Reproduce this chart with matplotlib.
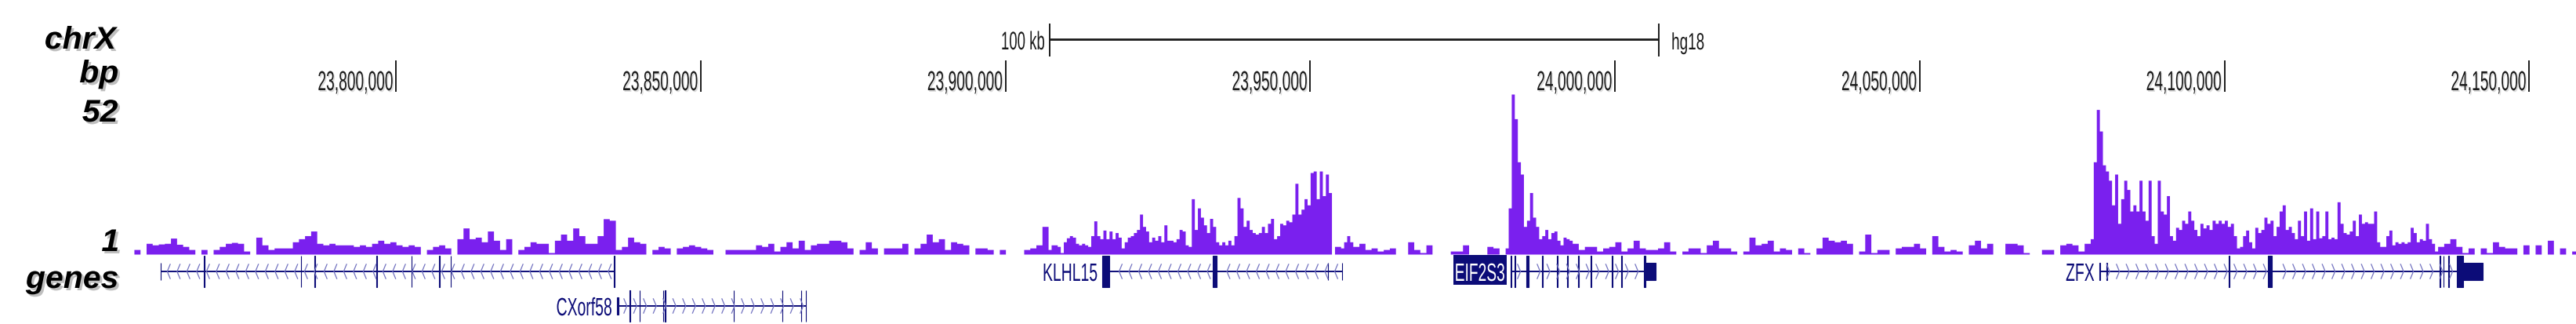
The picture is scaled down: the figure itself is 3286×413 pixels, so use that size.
import numpy as np
import matplotlib
matplotlib.use("Agg")
import matplotlib.pyplot as plt
from matplotlib.textpath import TextPath
from matplotlib.patches import PathPatch, Rectangle
from matplotlib.font_manager import FontProperties
from matplotlib.transforms import Affine2D
from matplotlib.collections import LineCollection

# ---------------- data ----------------
chrom = "chrX"
assembly = "hg18"
view_start = 23756750
view_end = 24157819
y_max = 52
y_low_label = 1

# signal: background stretches in 1 kb bins, peak stretches in 0.5 kb bins
bg1_start, bg1_bin = 23757000, 1000
bg1_values = [1.5, 0, 3.5, 3.0, 3.3, 3.5, 5.2, 3.2, 2.5, 1.5,
              0, 1.5, 0, 1.5, 2.5, 3.5, 3.8, 3.5, 1.0, 0,
              5.5, 3.0, 1.5, 2.0, 2.0, 2.0, 4.0, 5.0, 6.0, 7.5,
              3.5, 3.0, 3.5, 3.0, 3.0, 3.0, 2.5, 3.0, 2.5, 3.5,
              4.5, 3.5, 4.0, 3.0, 2.5, 3.0, 2.5, 0, 1.5, 2.5,
              3.0, 2.0, 0, 5.0, 8.5, 5.0, 5.5, 4.0, 7.5, 4.5,
              1.5, 5.0, 0, 1.5, 2.5, 4.0, 3.5, 3.5, 0.5, 4.5,
              6.5, 4.5, 8.5, 6.0, 3.5, 3.5, 6.0, 11.5, 11.0, 1.5,
              2.5, 5.5, 4.0, 3.5, 0, 1.5, 2.5, 2.0, 0, 2.0,
              2.5, 3.0, 2.5, 2.0, 1.5, 0, 0, 1.5, 1.5, 1.5,
              1.5, 1.5, 3.0, 2.5, 3.5, 1.0, 2.5, 4.0, 2.0, 4.5,
              1.5, 3.0, 3.5, 3.5, 4.5, 4.5, 4.0, 2.0, 0, 1.5,
              4.0, 2.0, 0, 2.0, 2.0, 2.0, 3.5, 0, 2.0, 3.5,
              6.5, 4.0, 5.0, 1.5, 4.0, 3.5, 3.0, 0, 2.0, 2.0,
              1.5, 0, 1.5, 0, 0, 0, 1.5, 2.0, 3.0, 9.0]
klhl15_start, klhl15_bin = 23907000, 500
klhl15_values = [1.5, 3, 3, 2.5, 0.5, 4, 5.3, 6, 5.5, 3.5,
                 3.0, 3.5, 3.0, 2.5, 6, 10.8, 6, 5, 7.8, 5,
                 7.5, 5, 7, 5.5, 2, 4, 5.5, 6, 7, 8,
                 13, 9, 7.5, 4, 5.5, 4.5, 6, 4, 9.5, 4.5,
                 4.5, 4, 5, 8, 7.5, 3, 2.5, 18, 8, 15,
                 12, 9.5, 7, 11.6, 9, 4, 3, 4, 3, 4.5,
                 3, 6, 18.4, 15, 9, 11, 8, 7, 6.5, 7,
                 9, 7, 10, 11.6, 5, 6, 10, 9.5, 11, 10.5,
                 13, 23, 13, 14.6, 18, 16, 26.5, 27, 18, 27,
                 19, 26, 20, 0, 2.5, 2.5, 2, 4, 6, 4]
bg2_start, bg2_bin = 23957000, 1000
bg2_values = [2.5, 3.5, 1.5, 2.0, 1.0, 1.5, 2.0, 0, 0, 4.0,
              1.5, 0.5, 3.0, 0, 0, 0, 1.0, 1.0, 3.0, 0,
              0, 0, 2.5, 2.0]
eif2s3_start, eif2s3_bin = 23981000, 500
eif2s3_values = [0, 0, 2, 15, 52, 44, 30, 26, 9, 11,
                 20, 12, 9, 5, 6, 8, 5, 7, 7.5, 4.5,
                 3, 5.5, 5, 4.5, 3.5, 3.5]
bg3_start, bg3_bin = 23994000, 1000
bg3_values = [1.5, 2.5, 2.5, 1.0, 2.0, 2.5, 4.0, 1.0, 2.0, 4.5,
              2.0, 1.5, 1.5,
              2.0, 4.0, 1.0, 0, 1.0, 2.0, 2.0, 0.5, 3.0, 4.5,
              2.0, 2.0, 1.0, 0, 1.0, 5.5, 3.0, 3.5, 4.5, 1.0,
              2.0, 1.5, 0, 2.0, 0.5, 0, 2.0, 5.5, 4.5, 4.0,
              4.5, 3.5, 0, 1.0, 6.5, 0.5, 1.5, 1.5, 0, 2.0,
              2.5, 2.5, 3.5, 2.0, 0, 6.0, 2.5, 1.0, 1.5, 1.0,
              0, 3.0, 4.5, 2.0, 3.5, 0, 0, 3.5, 3.5, 3.0,
              0.5, 0, 0, 1.5, 1.5, 0, 3.0, 3.5, 3.0, 1.0, 3.5]
zfx_start, zfx_bin = 24078000, 500
zfx_values = [5, 30, 47, 40, 29, 27, 24, 16, 26, 10,
              18, 24, 21, 14, 16, 14, 24, 14, 11, 24,
              6, 3.5, 24, 14, 13, 19, 6, 4.5, 8.7, 8,
              11, 10, 14, 11, 8, 6, 10, 8.5, 9.5, 8,
              11, 10, 11, 10, 11, 9, 10, 6, 2, 2.5,
              6, 7.8, 4, 2, 8.7, 7, 8, 12,
              10, 11, 6, 9, 14, 16, 8, 9, 7, 5,
              11, 6, 14, 4.5, 15, 5, 14, 5.3, 6, 14,
              5, 5.5, 5, 17, 10, 7, 6.5, 7.5, 11, 6,
              13, 10, 10.5, 10, 10, 14, 4, 2.5, 2.5, 6,
              7.8, 3, 4, 3.5, 4, 3.5, 4, 8.7, 7, 4,
              5, 4.5, 10, 5, 3.5, 1]
bg4_start, bg4_bin = 24135000, 1000
bg4_values = [2.5, 3.5, 5, 2.5, 0.5, 2.0, 0, 2.0, 0.5, 4.0,
              2.5, 2.0, 2.0, 0, 3.0, 0, 3.0, 0, 4.5, 0,
              2.0, 0, 1.0]

tick_positions = [23800000, 23850000, 23900000, 23950000,
                  24000000, 24050000, 24100000, 24150000]
tick_labels = ["23,800,000", "23,850,000", "23,900,000", "23,950,000",
               "24,000,000", "24,050,000", "24,100,000", "24,150,000"]
scale_bar_start = 23907250
scale_bar_length = 100000
scale_bar_label = "100 kb"

# exons: (start, end, full_height)
gene_a_exons = [(23761330, 23761430, 0), (23768500, 23768600, 1), (23784360, 23784460, 1),
                (23786630, 23786730, 1), (23796790, 23796890, 1), (23802490, 23802590, 1),
                (23807030, 23807130, 1), (23808920, 23809020, 1), (23835700, 23835800, 1)]
cxorf58_exons = [(23836230, 23836560, 0), (23838290, 23838390, 1), (23839925, 23840025, 1),
                 (23843780, 23843880, 1), (23844130, 23844230, 1), (23855360, 23855460, 1),
                 (23863335, 23863435, 1), (23866420, 23866520, 1), (23867195, 23867295, 1)]
klhl15_exons = [(23915904, 23916984, 1), (23934002, 23934684, 1),
                (23952860, 23952960, 0), (23955180, 23955280, 0)]
eif2s3_exons = [(23982870, 23982970, 1), (23983510, 23983610, 1), (23985416, 23985840, 1),
                (23988015, 23988115, 1), (23990510, 23990610, 1), (23992130, 23992230, 1),
                (23993930, 23994030, 1), (23995990, 23996090, 1), (23999460, 23999560, 1),
                (24001005, 24001105, 1), (24004787, 24005070, 1), (24005070, 24006678, 0)]
zfx_exons = [(24079525, 24079625, 0), (24080680, 24080780, 0), (24100700, 24100800, 1),
             (24107100, 24107780, 1), (24135350, 24135450, 1), (24135900, 24136000, 1),
             (24136760, 24136860, 1), (24138176, 24139167, 1), (24139167, 24142447, 0)]

gene_names = ["", "CXorf58", "KLHL15", "EIF2S3", "ZFX"]
gene_strands = ["-", "+", "-", "+", "+"]
gene_rows = [0, 1, 0, 0, 0]
gene_highlight = [False, False, False, True, False]
gene_exon_lists = [gene_a_exons, cxorf58_exons, klhl15_exons, eif2s3_exons, zfx_exons]

left_labels = [chrom, "bp", str(y_max), str(y_low_label), "genes"]

# ---------------- styling / layout ----------------
W, H = 3287, 413
SIG = "#7a20ee"
NAVY = "#0c0c78"
CHEV = "#7272c0"
TXT = "#1a1a1a"

fig = plt.figure(figsize=(W / 100, H / 100), dpi=100)
fig.patch.set_facecolor("white")
PX = Affine2D().scale(1, -1).translate(0, H).scale(1.0 / W, 1.0 / H) + fig.transFigure

FP_REG = FontProperties(family="Liberation Sans")
FP_BI = FontProperties(family="Liberation Sans", weight="bold", style="italic")

X0 = 169


def axes_px(top, bottom):
    a = fig.add_axes([X0 / W, 1 - bottom / H, (W - X0) / W, (bottom - top) / H])
    a.set_xlim(view_start, view_end)
    a.axis("off")
    return a


def ctext(x, base, s, sx, sy, fp=FP_REG, color=TXT, ha="right", alpha=1.0, z=5):
    tp = TextPath((0, 0), s, size=1, prop=fp)
    ext = tp.get_extents()
    if ha == "right":
        off = -ext.x1 * sx
    elif ha == "center":
        off = -0.5 * (ext.x0 + ext.x1) * sx
    else:
        off = -ext.x0 * sx
    tr = Affine2D().scale(sx, -sy).translate(x + off, base) + PX
    fig.add_artist(PathPatch(tp, transform=tr, facecolor=color, edgecolor="none",
                             alpha=alpha, zorder=z))
    return x + off + ext.x0 * sx, x + off + ext.x1 * sx


# signal track
ax_sig = axes_px(120, 324)
ax_sig.set_ylim(0, y_max)
segments = [(bg1_start, bg1_bin, bg1_values), (klhl15_start, klhl15_bin, klhl15_values),
            (bg2_start, bg2_bin, bg2_values), (eif2s3_start, eif2s3_bin, eif2s3_values),
            (bg3_start, bg3_bin, bg3_values), (zfx_start, zfx_bin, zfx_values),
            (bg4_start, bg4_bin, bg4_values)]
xs, ys = [], []
for st, bs, vals in segments:
    xs.extend(st + bs * np.arange(len(vals)))
    ys.extend(vals)
last_st, last_bs, last_vals = segments[-1]
xs.append(last_st + last_bs * len(last_vals))
ys.append(ys[-1])
ax_sig.fill_between(np.array(xs), np.array(ys), 0, step="post", color=SIG, linewidth=0)


def gx(g):
    return ax_sig.transData.transform((g, 0))[0]


# ruler
ax_top = axes_px(0, 120)
ax_top.set_ylim(120, 0)
ax_top.vlines(tick_positions, 77, 117, color=TXT, lw=1.4)
for pos, lab in zip(tick_positions, tick_labels):
    ctext(gx(pos) - 4.5 + 1.5, 117, lab, 19.2, 35, color="#c8c8c8", alpha=0.6)
    ctext(gx(pos) - 4.5, 115, lab, 19.2, 35)
sb1 = scale_bar_start + scale_bar_length
ax_top.hlines(50, scale_bar_start, sb1, color=TXT, lw=2.0)
ax_top.vlines([scale_bar_start, sb1], 30, 72, color=TXT, lw=1.4)
ctext(gx(scale_bar_start) - 7, 63, scale_bar_label, 18.6, 32.5)
ctext(gx(sb1) + 17, 63, assembly, 18.9, 30, ha="left")

# gene track
ax_gene = axes_px(324, 412)
ax_gene.set_ylim(2, 0)
bp_per_px = (view_end - view_start) / (W - X0)
chev_w = 4 * bp_per_px
chev_step = 12.5 * bp_per_px
for name, strand, row, hl, exons in zip(gene_names, gene_strands, gene_rows,
                                         gene_highlight, gene_exon_lists):
    yc = row + 0.5
    tx0 = min(e[0] for e in exons)
    tx1 = max(e[1] for e in exons)
    ax_gene.plot([tx0, tx1], [yc, yc], color=NAVY, lw=1.4, solid_capstyle="butt")
    segs = []
    for p in np.arange(tx0 + chev_step * 0.7, tx1 - chev_step * 0.3, chev_step):
        if any(s - 300 < p < e + 300 for s, e, f in exons if e - s > 300):
            continue
        if strand == "-":
            segs.append([(p + chev_w, yc - 0.22), (p, yc), (p + chev_w, yc + 0.22)])
        else:
            segs.append([(p, yc - 0.22), (p + chev_w, yc), (p, yc + 0.22)])
    ax_gene.add_collection(LineCollection(segs, colors=CHEV, linewidths=0.9))
    for s, e, full in exons:
        hh = 0.4625 if full else 0.247
        ax_gene.add_patch(Rectangle((s, yc - hh), e - s, 2 * hh, facecolor=NAVY,
                                    edgecolor=NAVY, lw=0.8))
    if name:
        base = 324 + 44 * row + 34
        if hl:
            xl, xr = ctext(gx(tx0) - 8, base, name, 19.2, 32, color="white", z=7)
            fig.add_artist(Rectangle((xl - 3, 324 + 44 * row + 1), xr - xl + 6, 37.5,
                                     transform=PX, facecolor=NAVY, edgecolor="none", zorder=6))
        else:
            ctext(gx(tx0) - 7, base, name, 19.4, 32, color=NAVY)

# left labels with shadow
left_baselines = [62, 105, 155, 320, 367]
for lab, base in zip(left_labels, left_baselines):
    ctext(153, base + 3, lab, 41, 40, fp=FP_BI, color="#8c8c8c", alpha=0.55)
    ctext(150, base, lab, 41, 40, fp=FP_BI, color="black")

fig.savefig("out.png", dpi=100, facecolor="white")
